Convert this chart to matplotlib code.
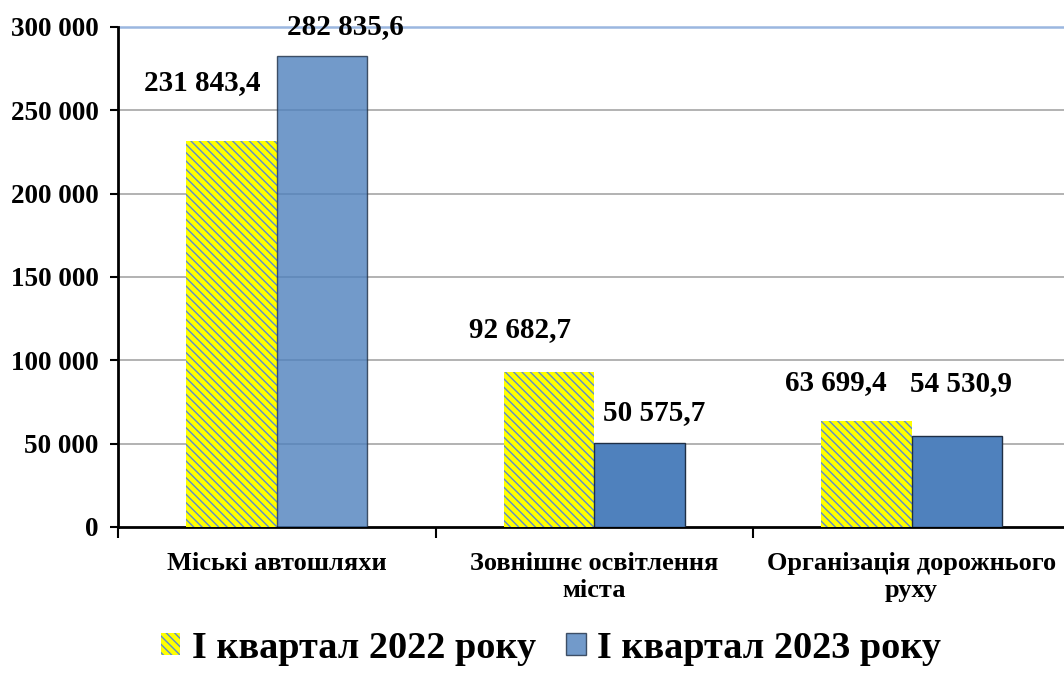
import matplotlib

matplotlib.use("Agg")
import matplotlib.pyplot as plt
import numpy as np

categories = ["Міські автошляхи", "Зовнішнє освітлення\nміста", "Організація дорожнього\nруху"]
q1_2022 = [231843.4, 92682.7, 63699.4]
q1_2023 = [282835.6, 50575.7, 54530.9]
series_names = ["І квартал 2022 року", "І квартал 2023 року"]
yticks = [0, 50000, 100000, 150000, 200000, 250000, 300000]

# label offsets in pixels (dx, dy) from the bar's top centre
off_2022 = [(-29, 58), (-29, 43), (-31, 38)]
off_2023 = [(23, 29), (15, 30), (4, 53)]


def fmt(v, dec=True):
    s = f"{v:,.1f}" if dec else f"{v:,.0f}"
    return s.replace(",", " ").replace(".", ",")


plt.rcParams["font.family"] = ["Liberation Serif", "DejaVu Serif"]
plt.rcParams["font.weight"] = "bold"
plt.rcParams["hatch.linewidth"] = 1.0

fig = plt.figure(figsize=(10.64, 6.73), dpi=100)
ax = fig.add_axes([0.111, 0.217, 0.895, 0.743])

x = np.arange(len(categories))
w = 0.285
blue = "#4f81bd"
b1 = ax.bar(x - w / 2, q1_2022, w, facecolor="#ffff00", edgecolor="#5b8ad0",
            hatch="\\\\\\\\", linewidth=0, zorder=3, label=series_names[0])
b2 = ax.bar(x + w / 2, q1_2023, w, color=blue, edgecolor="#1f2f45",
            linewidth=1.0, zorder=3, label=series_names[1])
b2[0].set_alpha(0.8)
b2[0].set_edgecolor("#1f2f45")

for i in range(len(categories)):
    for bars, vals, offs in ((b1, q1_2022, off_2022), (b2, q1_2023, off_2023)):
        r = bars[i]
        ax.annotate(fmt(vals[i]), (r.get_x() + r.get_width() / 2, vals[i]),
                    xytext=(offs[i][0] * 0.72, offs[i][1] * 0.72), textcoords="offset points",
                    ha="center", va="center", fontsize=21, fontweight="bold", zorder=5)

ax.set_xlim(-0.5, 2.5)
ax.set_ylim(0, 300000)
ax.set_yticks(yticks)
ax.set_yticklabels([fmt(v, False) for v in yticks], fontsize=19.5, fontweight="bold")
for v in yticks[1:-1]:
    ax.axhline(v, color="#a6a6a6", linewidth=1.2, zorder=1)
ax.axhline(300000, color="#9bb7e0", linewidth=1.8, zorder=1, clip_on=False)

ax.set_xticks([-0.5, 0.5, 1.5])
ax.set_xticklabels([])
ax.set_xticks(x, minor=True)
ax.set_xticklabels(categories, minor=True, fontsize=19, fontweight="bold", linespacing=1.2)
ax.tick_params(axis="x", which="minor", length=0, pad=18)
ax.tick_params(axis="x", which="major", length=8, width=1.5, direction="out")
ax.tick_params(axis="y", length=6, width=1.5, direction="out", pad=8)

for s in ("top", "right"):
    ax.spines[s].set_visible(False)
for s in ("left", "bottom"):
    ax.spines[s].set_linewidth(2)

leg = fig.legend(handles=[b1, b2], labels=series_names, loc="lower center",
                 bbox_to_anchor=(0.518, -0.04), ncol=2, frameon=False,
                 prop={"size": 27.5, "weight": "bold"}, handlelength=0.5,
                 handleheight=0.5, handletextpad=0.3, columnspacing=0.8)

fig.savefig("out.png", dpi=100)
